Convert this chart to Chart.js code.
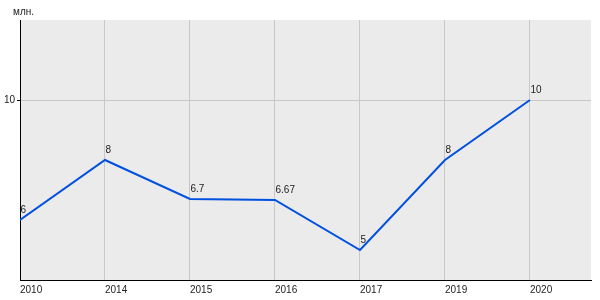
<!DOCTYPE html>
<html>
<head>
<meta charset="utf-8">
<script src="https://cdn.jsdelivr.net/npm/chart.js@4/dist/chart.umd.min.js"></script>
<style>
  body { margin: 0; background: #fff; }
  #wrap { width: 600px; height: 300px; }
</style>
</head>
<body>
<div id="wrap"><canvas id="chart" width="600" height="300"></canvas></div>
<script>
// chart data
const years = ['2010', '2014', '2015', '2016', '2017', '2019', '2020'];
const values = [6, 8, 6.7, 6.67, 5, 8, 10];
const valueLabels = ['6', '8', '6.7', '6.67', '5', '8', '10'];
const yTicks = [10];
const yUnit = 'млн.';

const FONT = '"Liberation Sans", Arial, sans-serif';

// grey plot background
const plotBg = {
    id: 'plotBg',
    beforeDraw(chart) {
        const { ctx, chartArea: a } = chart;
        ctx.save();
        ctx.fillStyle = '#ebebeb';
        ctx.fillRect(a.left, a.top, a.right - a.left, a.bottom - a.top);
        ctx.restore();
    }
};

// value labels next to points + unit caption
const pointText = {
    id: 'pointText',
    afterDatasetsDraw(chart) {
        const { ctx, chartArea: a } = chart;
        const meta = chart.getDatasetMeta(0);
        ctx.save();
        ctx.font = '10px ' + FONT;
        ctx.fillStyle = '#222';
        ctx.textAlign = 'left';
        ctx.textBaseline = 'alphabetic';
        meta.data.forEach((pt, i) => {
            ctx.fillText(valueLabels[i], pt.x + 0.5, pt.y - 7);
        });
        ctx.fillText(yUnit, a.left - 7, a.top - 5);
        ctx.restore();
    }
};

new Chart(document.getElementById('chart'), {
    type: 'line',
    data: {
        datasets: [{
            data: values.map((v, i) => ({ x: i, y: v })),
            borderColor: '#0050e0',
            borderWidth: 2,
            pointRadius: 0,
            tension: 0,
            fill: false
        }]
    },
    options: {
        responsive: false,
        animation: false,
        layout: { padding: { top: 20, right: 9, left: 0, bottom: 0 } },
        plugins: {
            legend: { display: false },
            tooltip: { enabled: false }
        },
        scales: {
            x: {
                type: 'linear',
                min: 0,
                max: 6.718,
                afterBuildTicks: s => { s.ticks = years.map((y, i) => ({ value: i })); },
                afterFit: s => { s.height = 20; },
                grid: { color: '#c8c8c8', drawTicks: false },
                border: { color: '#000', width: 1 },
                ticks: {
                    align: 'start',
                    padding: 4,
                    color: '#222',
                    font: { family: FONT, size: 10 },
                    autoSkip: false,
                    maxRotation: 0,
                    callback: v => years[v] ?? ''
                }
            },
            y: {
                min: 4,
                max: 12.667,
                afterBuildTicks: s => { s.ticks = yTicks.map(v => ({ value: v })); },
                afterFit: s => { s.width = 20; },
                grid: { color: '#c8c8c8', tickColor: '#000', tickLength: 3 },
                border: { color: '#000', width: 1 },
                ticks: {
                    padding: 2,
                    color: '#222',
                    font: { family: FONT, size: 10 }
                }
            }
        }
    },
    plugins: [plotBg, pointText]
});
</script>
</body>
</html>
